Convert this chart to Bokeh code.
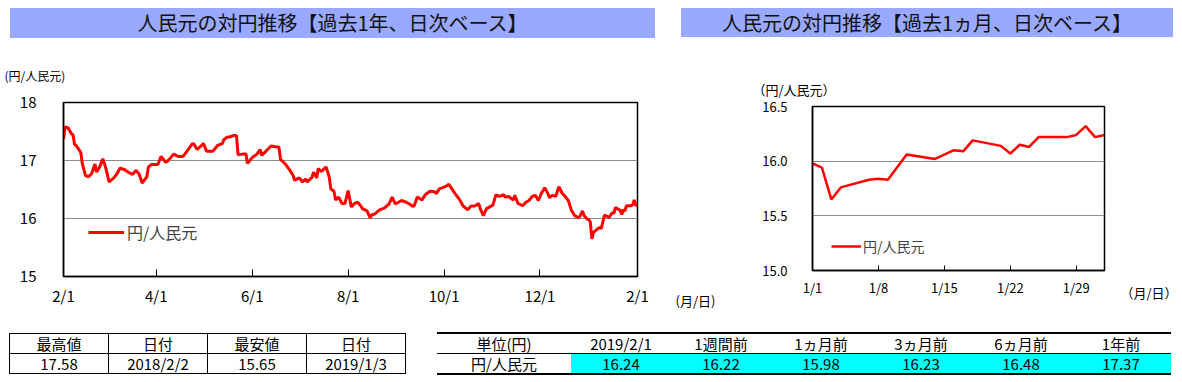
import pandas as pd
from bokeh.plotting import figure
from bokeh.models import (Range1d, FixedTicker, DatetimeTickFormatter, Legend, Title,
                          Div, NumeralTickFormatter)
from bokeh.layouts import column, row
from bokeh.embed import file_html
from bokeh.resources import INLINE

JP = "Noto Sans CJK JP"
BAR = "#99A9FF"

# ---------------- data ----------------
title_year = "人民元の対円推移【過去1年、日次ベース】"
title_month = "人民元の対円推移【過去1ヵ月、日次ベース】"
series_name = "円/人民元"
unit_year = "(円/人民元)"
unit_month = "（円/人民元）"
date_unit_year = "(月/日)"
date_unit_month = "（月/日）"

year_dates_2018 = [
    "2018-02-01", "2018-02-02", "2018-02-04", "2018-02-06", "2018-02-07", "2018-02-08", "2018-02-09",
    "2018-02-12", "2018-02-13", "2018-02-15", "2018-02-17", "2018-02-19", "2018-02-21", "2018-02-22",
    "2018-02-24", "2018-02-26", "2018-02-28", "2018-03-02", "2018-03-05", "2018-03-07", "2018-03-09",
    "2018-03-12", "2018-03-14", "2018-03-17", "2018-03-19", "2018-03-21", "2018-03-23", "2018-03-26",
    "2018-03-27", "2018-03-29", "2018-04-02", "2018-04-04", "2018-04-07", "2018-04-09", "2018-04-12",
    "2018-04-15", "2018-04-18", "2018-04-20", "2018-04-24", "2018-04-25", "2018-04-27", "2018-05-01",
    "2018-05-03", "2018-05-07", "2018-05-10", "2018-05-13", "2018-05-14", "2018-05-16", "2018-05-18",
    "2018-05-20", "2018-05-22", "2018-05-23", "2018-05-26", "2018-05-28", "2018-05-29", "2018-06-01",
    "2018-06-04", "2018-06-06", "2018-06-07", "2018-06-09", "2018-06-13", "2018-06-15", "2018-06-18",
    "2018-06-19", "2018-06-22", "2018-06-25", "2018-06-27", "2018-06-28", "2018-07-01", "2018-07-03",
    "2018-07-05", "2018-07-06", "2018-07-09", "2018-07-10", "2018-07-12", "2018-07-13", "2018-07-15",
    "2018-07-18", "2018-07-20", "2018-07-21", "2018-07-23", "2018-07-24", "2018-07-26", "2018-07-28",
    "2018-07-30", "2018-08-01", "2018-08-03", "2018-08-05", "2018-08-07", "2018-08-09", "2018-08-10",
    "2018-08-13", "2018-08-15", "2018-08-16", "2018-08-18", "2018-08-21", "2018-08-24", "2018-08-27",
    "2018-08-29", "2018-08-31", "2018-09-04", "2018-09-07", "2018-09-09", "2018-09-11", "2018-09-12",
    "2018-09-14", "2018-09-17", "2018-09-19", "2018-09-22", "2018-09-25", "2018-09-26", "2018-09-28",
    "2018-10-01", "2018-10-03", "2018-10-04", "2018-10-06", "2018-10-08", "2018-10-11", "2018-10-13",
    "2018-10-16", "2018-10-18", "2018-10-21", "2018-10-23", "2018-10-24", "2018-10-26", "2018-10-28",
    "2018-10-30", "2018-11-01", "2018-11-03", "2018-11-05", "2018-11-08", "2018-11-09", "2018-11-11",
    "2018-11-14", "2018-11-15", "2018-11-17", "2018-11-20", "2018-11-22", "2018-11-24", "2018-11-26",
    "2018-11-28", "2018-11-30", "2018-12-02", "2018-12-04", "2018-12-06", "2018-12-07", "2018-12-09",
    "2018-12-11", "2018-12-13", "2018-12-15", "2018-12-17", "2018-12-19", "2018-12-21", "2018-12-23",
    "2018-12-25", "2018-12-26", "2018-12-28", "2018-12-29", "2018-12-31",
]
year_values_2018 = [
    17.37, 17.58, 17.56, 17.46, 17.45, 17.28, 17.26,
    17.14, 16.94, 16.74, 16.72, 16.78, 16.94, 16.80,
    16.89, 17.03, 16.86, 16.63, 16.70, 16.77, 16.87,
    16.84, 16.80, 16.76, 16.83, 16.77, 16.61, 16.72,
    16.89, 16.93, 16.93, 17.07, 16.97, 17.01, 17.11,
    17.07, 17.07, 17.14, 17.29, 17.28, 17.19, 17.29,
    17.16, 17.16, 17.26, 17.29, 17.36, 17.40, 17.41,
    17.43, 17.43, 17.10, 17.11, 17.11, 16.95, 17.05,
    17.11, 17.19, 17.09, 17.14, 17.25, 17.24, 17.23,
    17.02, 16.94, 16.83, 16.74, 16.66, 16.70, 16.63,
    16.68, 16.63, 16.71, 16.80, 16.70, 16.86, 16.81,
    16.89, 16.71, 16.51, 16.47, 16.32, 16.37, 16.26,
    16.26, 16.48, 16.20, 16.26, 16.28, 16.22, 16.17,
    16.13, 16.01, 16.06, 16.08, 16.15, 16.18, 16.25,
    16.37, 16.25, 16.31, 16.28, 16.25, 16.21, 16.22,
    16.37, 16.32, 16.41, 16.47, 16.46, 16.43, 16.51,
    16.54, 16.57, 16.59, 16.51, 16.43, 16.32, 16.22,
    16.15, 16.21, 16.22, 16.26, 16.17, 16.05, 16.17,
    16.20, 16.23, 16.41, 16.38, 16.41, 16.37, 16.38,
    16.32, 16.40, 16.26, 16.22, 16.28, 16.31, 16.38,
    16.40, 16.31, 16.44, 16.53, 16.43, 16.36, 16.40,
    16.38, 16.55, 16.44, 16.38, 16.31, 16.14, 16.05,
    16.02, 16.02, 16.13, 16.05, 15.99,
]

month_dates = [
    "2019-01-01", "2019-01-02", "2019-01-03", "2019-01-04", "2019-01-07", "2019-01-08", "2019-01-09",
    "2019-01-11", "2019-01-14", "2019-01-15", "2019-01-16", "2019-01-17", "2019-01-18", "2019-01-21",
    "2019-01-22", "2019-01-23", "2019-01-24", "2019-01-25", "2019-01-28", "2019-01-29", "2019-01-30",
    "2019-01-31", "2019-02-01",
]
month_values = [
    15.98, 15.94, 15.65, 15.76, 15.83, 15.84, 15.83,
    16.06, 16.02, 16.06, 16.10, 16.09, 16.19, 16.14,
    16.07, 16.15, 16.13, 16.22, 16.22, 16.24, 16.32,
    16.22, 16.24,
]

year_x_ticks = ["2018-02-01", "2018-04-01", "2018-06-01", "2018-08-01",
                "2018-10-01", "2018-12-01", "2019-02-01"]
year_y_ticks = [15, 16, 17, 18]
month_x_ticks = ["2019-01-01", "2019-01-08", "2019-01-15", "2019-01-22", "2019-01-29"]
month_y_ticks = [15.0, 15.5, 16.0, 16.5]

summary_headers = ["最高値", "日付", "最安値", "日付"]
summary_values = ["17.58", "2018/2/2", "15.65", "2019/1/3"]

change_headers = ["単位(円)", "2019/2/1", "1週間前", "1ヵ月前", "3ヵ月前", "6ヵ月前", "1年前"]
change_label = "円/人民元"
change_values = [16.24, 16.22, 15.98, 16.23, 16.48, 17.37]


def ms(s):
    return pd.Timestamp(s).value // 10**6


FMT = "%-m/%-d"
dt_fmt = DatetimeTickFormatter(milliseconds=FMT, seconds=FMT, minsec=FMT, minutes=FMT,
                               hourmin=FMT, hours=FMT, days=FMT, months=FMT, years=FMT)


def style_fig(p, tick_in, label_size, y_label_size, x_standoff, y_standoff, axis_w):
    p.outline_line_color = "black"
    p.outline_line_width = axis_w
    p.background_fill_color = "white"
    p.border_fill_color = "white"
    p.xgrid.grid_line_color = None
    p.ygrid.grid_line_color = "#8c8c8c"
    p.ygrid.grid_line_width = 1
    for ax in (p.xaxis[0], p.yaxis[0]):
        ax.axis_line_color = "black"
        ax.axis_line_width = axis_w
        ax.minor_tick_line_color = None
        ax.major_label_text_font = JP
        ax.major_label_text_color = "black"
    p.xaxis[0].major_tick_in = tick_in
    p.xaxis[0].major_tick_out = 0
    p.xaxis[0].major_tick_line_color = "black"
    p.xaxis[0].major_tick_line_width = 1
    p.xaxis[0].major_label_text_font_size = label_size
    p.xaxis[0].major_label_standoff = x_standoff
    p.yaxis[0].major_tick_line_color = None
    p.yaxis[0].major_label_text_font_size = y_label_size
    p.yaxis[0].major_label_standoff = y_standoff


def unit_title(text, align, offset, standoff, valign, size="13px"):
    return Title(text=text, align=align, offset=offset, standoff=standoff,
                 vertical_align=valign, text_font=JP, text_font_size=size,
                 text_font_style="normal", text_color="black")


# ---------------- left chart: 1 year ----------------
year_x = pd.to_datetime(year_dates_2018 + month_dates)
year_y = year_values_2018 + month_values

p1 = figure(x_axis_type="datetime", frame_width=574, frame_height=174,
            min_border_left=63, min_border_right=91, min_border_top=62, min_border_bottom=47,
            x_range=Range1d(pd.Timestamp(year_x_ticks[0]), pd.Timestamp(year_x_ticks[-1])),
            y_range=Range1d(year_y_ticks[0], year_y_ticks[-1]),
            output_backend="svg", toolbar_location=None)
r1 = p1.line(year_x, year_y, line_color="#ff0000", line_width=3)
p1.xaxis[0].ticker = FixedTicker(ticks=[ms(t) for t in year_x_ticks])
p1.xaxis[0].formatter = dt_fmt
p1.yaxis[0].ticker = FixedTicker(ticks=year_y_ticks)
p1.yaxis[0].formatter = NumeralTickFormatter(format="0")
style_fig(p1, 7, "15px", "15px", 8, 21, 1.5)

leg1 = Legend(items=[(series_name, [r1])], location=(25, 32), glyph_width=36, glyph_height=14,
              label_standoff=3, padding=0, margin=0, spacing=0,
              border_line_alpha=0, background_fill_alpha=0,
              label_text_font=JP, label_text_font_size="16px")
p1.add_layout(leg1)
p1.add_layout(unit_title(unit_year, "left", -59, 37, "bottom", "12px"), "above")
p1.add_layout(unit_title(date_unit_year, "right", -78, -36, "top"), "below")

# ---------------- right chart: 1 month ----------------
month_x = pd.to_datetime(month_dates)
p2 = figure(x_axis_type="datetime", frame_width=292, frame_height=164,
            min_border_left=84, min_border_right=78, min_border_top=66, min_border_bottom=53,
            x_range=Range1d(month_x[0], month_x[-1]),
            y_range=Range1d(month_y_ticks[0], month_y_ticks[-1]),
            output_backend="svg", toolbar_location=None)
r2 = p2.line(month_x, month_values, line_color="#ff0000", line_width=2.5)
p2.xaxis[0].ticker = FixedTicker(ticks=[ms(t) for t in month_x_ticks])
p2.xaxis[0].formatter = dt_fmt
p2.yaxis[0].ticker = FixedTicker(ticks=month_y_ticks)
p2.yaxis[0].formatter = NumeralTickFormatter(format="0.0")
style_fig(p2, 5, "13px", "13px", 7, 19, 1.5)

leg2 = Legend(items=[(series_name, [r2])], location=(19, 14), glyph_width=30, glyph_height=14,
              label_standoff=2, padding=0, margin=0, spacing=0,
              border_line_alpha=0, background_fill_alpha=0,
              label_text_font=JP, label_text_font_size="14px")
p2.add_layout(leg2)
p2.add_layout(unit_title(unit_month, "left", -60, 16, "bottom"), "above")
p2.add_layout(unit_title(date_unit_month, "right", -73, -34, "top"), "below")

# ---------------- title bars ----------------
def bar_html(text, left, width, height, size):
    return (f'<div style="margin-left:{left}px;margin-top:8px;width:{width}px;height:{height}px;'
            f'background:{BAR};text-align:center;font-family:\'{JP}\';font-size:{size}px;'
            f'line-height:{height}px;color:#111;white-space:nowrap">{text}</div>')


t1 = Div(text=bar_html(title_year, 10, 645, 30, 20), width=668, height=40, margin=0)
t2 = Div(text=bar_html(title_month, 13, 492, 29, 20), width=514, height=40, margin=0)

# ---------------- tables ----------------
cell1 = ("border:1px solid #000;width:99px;height:19px;padding:0;text-align:center;"
         "line-height:19px;")
row_h = "".join(f'<td style="{cell1}">{h}</td>' for h in summary_headers)
row_v = "".join(f'<td style="{cell1}">{v}</td>' for v in summary_values)
table1_html = (f'<div style="padding:10px 0 0 9px"><table style="border-collapse:collapse;'
               f'table-layout:fixed;font-family:\'{JP}\';font-size:15px;color:#000">'
               f'<tr>{row_h}</tr><tr>{row_v}</tr></table></div>')

head_cells = []
for i, h in enumerate(change_headers):
    w = 134 if i == 0 else 100
    head_cells.append(f'<td style="width:{w}px;height:19px;padding:0;text-align:center;'
                      f'line-height:19px;border-top:2px solid #000;border-bottom:1px solid #000">{h}</td>')
val_cells = [f'<td style="height:19px;padding:0;text-align:center;line-height:19px;'
             f'border-bottom:2px solid #000">{change_label}</td>']
for v in change_values:
    val_cells.append(f'<td style="height:19px;padding:0;text-align:center;line-height:19px;'
                     f'background:#00FFFF;border-bottom:2px solid #000">{v:.2f}</td>')
table2_html = (f'<div style="padding:9px 0 0 7px"><table style="border-collapse:collapse;'
               f'table-layout:fixed;font-family:\'{JP}\';font-size:15px;color:#000">'
               f'<tr>{"".join(head_cells)}</tr><tr>{"".join(val_cells)}</tr></table></div>')

tb1 = Div(text=table1_html, width=430, height=56, margin=0)
tb2 = Div(text=table2_html, width=752, height=56, margin=0)

layout = column(row(t1, t2), row(column(p1), column(p2)), row(tb1, tb2))
open("out.html", "w").write(file_html(layout, INLINE))
